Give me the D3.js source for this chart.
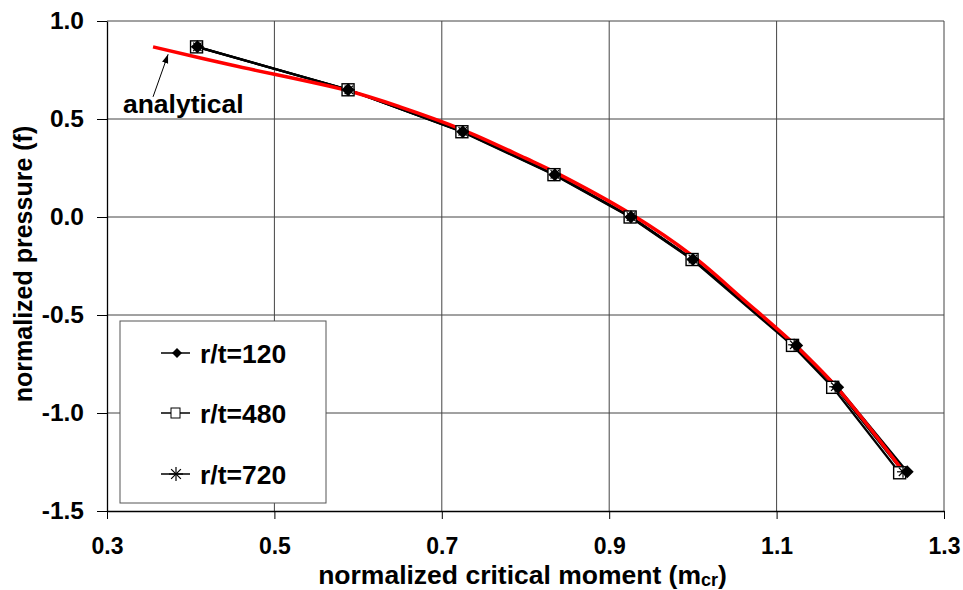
<!DOCTYPE html>
<html>
<head>
<meta charset="utf-8">
<script src="https://cdn.jsdelivr.net/npm/d3@7"></script>
<style>
  body { margin: 0; background: #fff; }
  svg { font-family: "Liberation Sans", Arial, sans-serif; font-weight: bold; }
</style>
</head>
<body>
<div id="chart"></div>
<script>
// Data
const rt120 = [
  [0.408, 0.868], [0.588, 0.649], [0.725, 0.435], [0.835, 0.216], [0.926, 0.0],
  [1.0, -0.217], [1.124, -0.655], [1.173, -0.869], [1.256, -1.30]
];
const rt480 = [
  [0.407, 0.868], [0.588, 0.649], [0.724, 0.435], [0.834, 0.216], [0.925, 0.0],
  [0.999, -0.217], [1.119, -0.655], [1.167, -0.869], [1.247, -1.305]
];
const rt720 = [
  [0.408, 0.868], [0.589, 0.649], [0.725, 0.437], [0.835, 0.218], [0.926, 0.002],
  [1.0, -0.215], [1.121, -0.652], [1.170, -0.866], [1.251, -1.30]
];
const analytical = [
  [0.355, 0.868], [0.45, 0.774], [0.588, 0.644], [0.65, 0.562], [0.725, 0.445],
  [0.8, 0.30], [0.835, 0.229], [0.926, 0.015], [1.0, -0.20], [1.06, -0.42],
  [1.12, -0.645], [1.17, -0.86], [1.25, -1.29]
];
const xTicks = [0.3, 0.5, 0.7, 0.9, 1.1, 1.3];
const yTicks = [1.0, 0.5, 0.0, -0.5, -1.0, -1.5];
const legendLabels = ["r/t=120", "r/t=480", "r/t=720"];

const width = 963;
const height = 590;
const marginLeft = 107;
const marginRight = 19;
const marginTop = 21;
const marginBottom = 79;

const x = d3.scaleLinear().domain([0.3, 1.3]).range([marginLeft, width - marginRight]);
const y = d3.scaleLinear().domain([-1.5, 1.0]).range([height - marginBottom, marginTop]);
const fmt = d => d.toFixed(1); // plain hyphen for negatives

const svg = d3.select("#chart")
  .append("svg")
  .attr("width", width)
  .attr("height", height)
  .attr("viewBox", [0, 0, width, height]);

// Gridlines
svg.append("g")
  .attr("stroke", "#444")
  .attr("stroke-width", 1)
  .selectAll("line")
  .data(xTicks.slice(1))
  .join("line")
  .attr("x1", d => x(d)).attr("x2", d => x(d))
  .attr("y1", y(1.0)).attr("y2", y(-1.5));

svg.append("g")
  .attr("stroke", "#444")
  .attr("stroke-width", 1)
  .selectAll("line")
  .data(yTicks.slice(0, -1))
  .join("line")
  .attr("x1", x(0.3)).attr("x2", x(1.3))
  .attr("y1", d => y(d)).attr("y2", d => y(d));

// Axes
const xAxis = svg.append("g")
  .attr("transform", `translate(0,${y(-1.5)})`)
  .call(d3.axisBottom(x).tickValues(xTicks).tickFormat(fmt).tickSize(8).tickSizeOuter(0).tickPadding(19));
xAxis.select(".domain").attr("stroke", "#000").attr("stroke-width", 1.3);
xAxis.selectAll(".tick line").attr("stroke", "#000");
xAxis.selectAll(".tick text")
  .attr("fill", "#000")
  .style("font-size", "23px")
  .style("font-family", "'Liberation Sans', Arial, sans-serif")
  .style("font-weight", "bold");

const yAxis = svg.append("g")
  .attr("transform", `translate(${x(0.3)},0)`)
  .call(d3.axisLeft(y).tickValues(yTicks).tickFormat(fmt).tickSize(10).tickSizeOuter(0).tickPadding(13));
yAxis.select(".domain").attr("stroke", "#000").attr("stroke-width", 1.3);
yAxis.selectAll(".tick line").attr("stroke", "#000");
yAxis.selectAll(".tick text")
  .attr("fill", "#000")
  .style("font-size", "24.5px")
  .style("font-family", "'Liberation Sans', Arial, sans-serif")
  .style("font-weight", "bold");

// Axis titles
const xTitle = svg.append("text")
  .attr("x", (x(0.3) + x(1.3)) / 2 - 3)
  .attr("y", 584)
  .attr("text-anchor", "middle")
  .style("font-size", "26.5px");
xTitle.append("tspan").text("normalized critical moment (m");
xTitle.append("tspan").style("font-size", "18px").attr("dy", 2).text("cr");
xTitle.append("tspan").attr("dy", -2).text(")");

svg.append("text")
  .attr("transform", `translate(32,${(y(1.0) + y(-1.5)) / 2 - 2}) rotate(-90)`)
  .attr("text-anchor", "middle")
  .style("font-size", "25px")
  .text("normalized pressure (f)");

// Series lines
const line = d3.line().x(d => x(d[0])).y(d => y(d[1]));
const seriesGroup = svg.append("g").attr("fill", "none").attr("stroke", "#000").attr("stroke-width", 2.2);
[rt120, rt480, rt720].forEach(s => seriesGroup.append("path").attr("d", line(s)));

// Analytical curve
svg.append("path")
  .attr("fill", "none")
  .attr("stroke", "#ff0000")
  .attr("stroke-width", 3.5)
  .attr("d", d3.line().curve(d3.curveCatmullRom).x(d => x(d[0])).y(d => y(d[1]))(analytical));

// Markers
function drawStar(g, cx, cy, r) {
  const p = g.append("g").attr("transform", `translate(${cx},${cy})`).attr("stroke", "#000").attr("stroke-width", 1.2);
  p.append("line").attr("x1", -r).attr("x2", r).attr("y1", 0).attr("y2", 0);
  p.append("line").attr("x1", -r * 0.7).attr("x2", r * 0.7).attr("y1", -r * 0.7).attr("y2", r * 0.7);
  p.append("line").attr("x1", -r * 0.7).attr("x2", r * 0.7).attr("y1", r * 0.7).attr("y2", -r * 0.7);
  p.append("line").attr("x1", 0).attr("x2", 0).attr("y1", -r).attr("y2", r);
}
const diamond = r => `M0,${-r}L${r},0L0,${r}L${-r},0Z`;

const markers = svg.append("g");
rt480.forEach(d => markers.append("rect")
  .attr("x", x(d[0]) - 6).attr("y", y(d[1]) - 6)
  .attr("width", 12).attr("height", 12)
  .attr("fill", "#fff").attr("stroke", "#000").attr("stroke-width", 1.4));
rt720.forEach(d => drawStar(markers, x(d[0]), y(d[1]), 6));
rt120.forEach(d => markers.append("path")
  .attr("d", diamond(6.5))
  .attr("transform", `translate(${x(d[0])},${y(d[1])})`)
  .attr("fill", "#000"));

// Annotation
svg.append("defs").append("marker")
  .attr("id", "arrow")
  .attr("viewBox", "0 0 10 10")
  .attr("refX", 10).attr("refY", 5)
  .attr("markerWidth", 9).attr("markerHeight", 9)
  .attr("orient", "auto")
  .append("path").attr("d", "M0,1.5 L10,5 L0,8.5 Z").attr("fill", "#000");

svg.append("line")
  .attr("x1", x(0.355)).attr("y1", y(0.613))
  .attr("x2", x(0.373)).attr("y2", y(0.83))
  .attr("stroke", "#000").attr("stroke-width", 1)
  .attr("marker-end", "url(#arrow)");

svg.append("text")
  .attr("x", x(0.319))
  .attr("y", y(0.532))
  .style("font-size", "26.5px")
  .text("analytical");

// Legend
const legend = svg.append("g");
legend.append("rect")
  .attr("x", 120).attr("y", 321)
  .attr("width", 206).attr("height", 182)
  .attr("fill", "#fff").attr("stroke", "#555").attr("stroke-width", 1);

const rowY = [353, 413, 474];
legendLabels.forEach((label, i) => {
  const row = legend.append("g").attr("transform", `translate(0,${rowY[i]})`);
  row.append("line").attr("x1", 161).attr("x2", 190).attr("y1", 0).attr("y2", 0)
    .attr("stroke", "#000").attr("stroke-width", 1.5);
  if (i === 0) {
    row.append("path").attr("d", diamond(5))
      .attr("transform", "translate(177,0)").attr("fill", "#000");
  } else if (i === 1) {
    row.append("rect").attr("x", 171).attr("y", -5).attr("width", 9).attr("height", 10)
      .attr("fill", "#fff").attr("stroke", "#000").attr("stroke-width", 1);
  } else {
    drawStar(row, 176, 0, 7);
  }
  row.append("text")
    .attr("x", 200).attr("y", 0).attr("dy", "0.36em")
    .style("font-size", "26.5px")
    .text(label);
});
</script>
</body>
</html>
